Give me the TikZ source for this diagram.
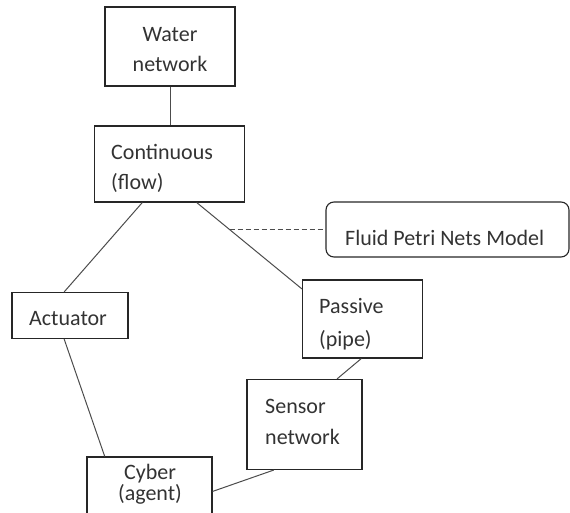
\documentclass[tikz,border=0pt]{standalone}
\usepackage{fontspec}
\setmainfont{Carlito}
\usetikzlibrary{calc}
\begin{document}
\begin{tikzpicture}[x=1pt,y=-1pt,
  box/.style={draw=black!85,line width=1.1pt,inner sep=0pt,fill=none},
  link/.style={draw=black!70,line width=1pt},
  txt/.style={inner sep=0pt,text=black!80,font=\fontsize{22}{30}\selectfont},
]
\useasboundingbox (0,0) rectangle (570,513);
\clip (0,0) rectangle (570,513);
% boxes
\node[box,minimum width=130pt,minimum height=79pt] (water) at (170,46.5) {};
\node[box,minimum width=150pt,minimum height=76pt] (cont) at (169.5,164) {};
\node[box,rounded corners=8pt,minimum width=243pt,minimum height=55pt] (fluid) at (447.5,229.5) {};
\node[box,minimum width=116pt,minimum height=46pt] (act) at (70,315.5) {};
\node[box,minimum width=120pt,minimum height=78pt] (pass) at (362.5,319) {};
\node[box,minimum width=115pt,minimum height=90pt] (sens) at (304.5,424.5) {};
\node[box,minimum width=125pt,minimum height=80pt] (cyber) at (149.5,497) {};
% labels (multi-line labels are anchored on the baseline of their last line)
\node[txt,anchor=base,align=center] (waterlbl) at (170,72) {Water\\network};
\node[txt,anchor=base west,align=left] (contlbl) at (111,190) {Continuous\\(flow)};
\node[txt,anchor=base west] (fluidlbl) at (345,245) {Fluid Petri Nets Model};
\node[txt,anchor=base west] (actlbl) at (29,325) {Actuator};
\node[txt,anchor=base west,align=left,font=\fontsize{22}{33}\selectfont] (passlbl) at (319,346) {Passive\\(pipe)};
\node[txt,anchor=base west,align=left,font=\fontsize{22}{31}\selectfont] (senslbl) at (265,444) {Sensor\\network};
\node[txt,anchor=base,align=center,font=\fontsize{22}{21}\selectfont] (cyberlbl) at (150,500) {Cyber\\(agent)};
% connectors
\draw[link] (water.south) -- (water.south |- cont.north);
\draw[link] ($(cont.south west)!0.32!(cont.south east)$) -- ($(act.north west)!0.45!(act.north east)$);
\coordinate (cp1) at ($(cont.south west)!0.68!(cont.south east)$);
\coordinate (cp2) at ($(pass.north west)!0.12!(pass.south west)$);
\draw[link] (cp1) -- (cp2);
\coordinate (dashend) at (intersection of cp1--cp2 and fluid.west--{[xshift=-10pt]fluid.west});
\draw[link,dashed,dash pattern=on 5pt off 3pt] (dashend) -- (fluid.west);
\draw[link] ($(act.south west)!0.45!(act.south east)$) -- ($(cyber.north west)!0.145!(cyber.north east)$);
\draw[link] ($(pass.south west)!0.49!(pass.south east)$) -- ($(sens.north west)!0.78!(sens.north east)$);
\draw[link] ($(sens.south west)!0.235!(sens.south east)$) -- ($(cyber.north east)+(0,35)$);
\end{tikzpicture}
\end{document}
